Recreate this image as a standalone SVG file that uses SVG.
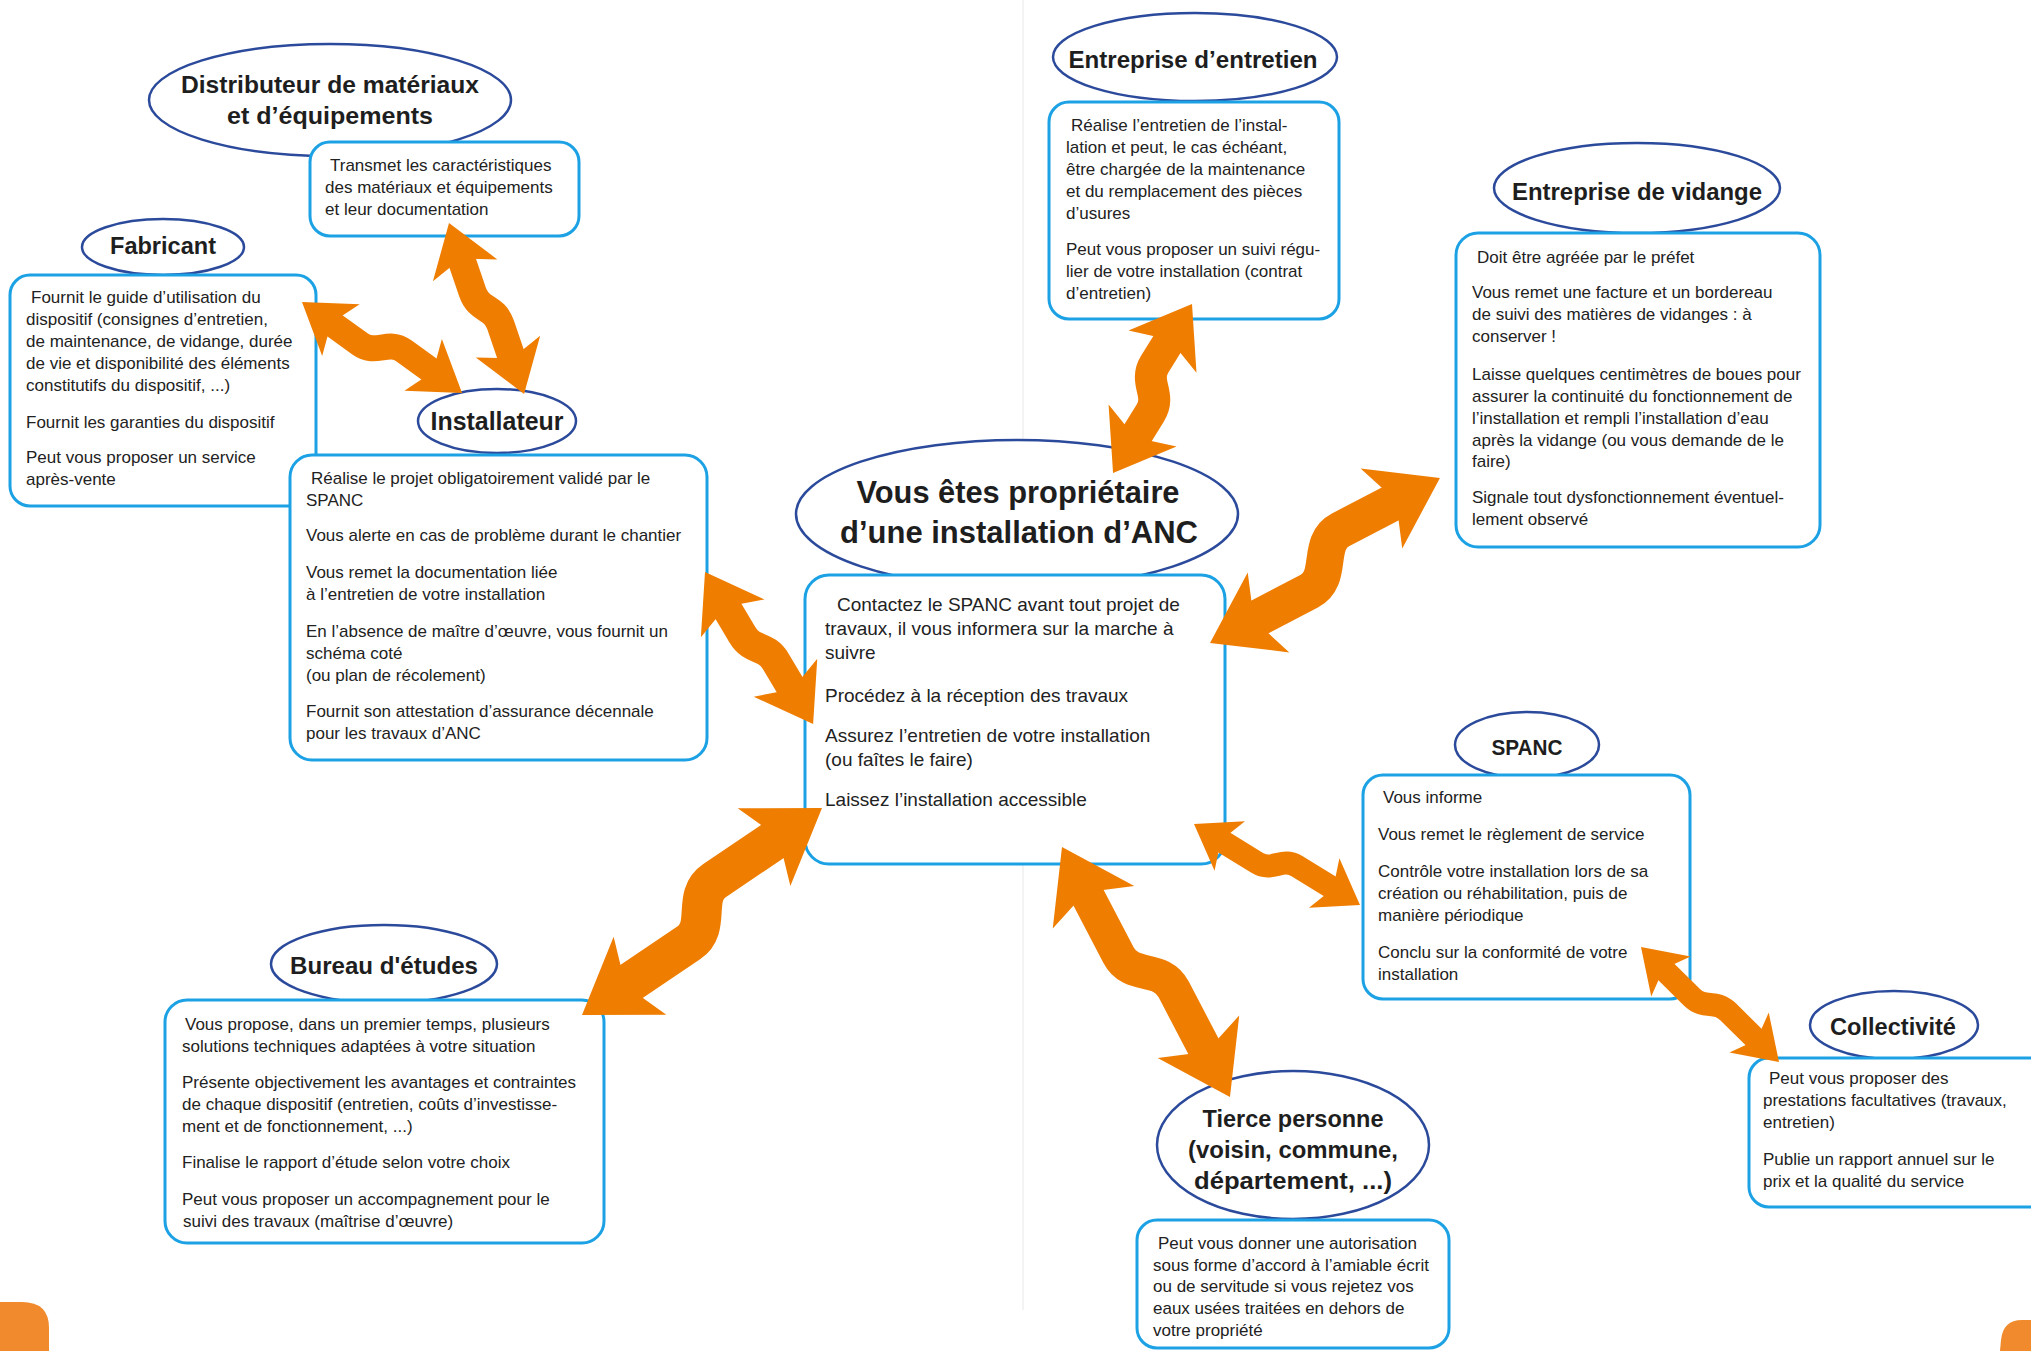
<svg xmlns="http://www.w3.org/2000/svg" width="2031" height="1351" viewBox="0 0 2031 1351">
<style>
.el{fill:#fff;stroke:#2b4a9b;stroke-width:2.5}
.bx{fill:#fff;stroke:#1ca2e4;stroke-width:3}
.ti{font-family:"Liberation Sans",Arial,sans-serif;font-weight:bold;fill:#1e1e1e;text-anchor:middle}
.t{font-family:"Liberation Sans",Arial,sans-serif;font-size:17px;fill:#222}
.tc{font-family:"Liberation Sans",Arial,sans-serif;font-size:19px;fill:#222}
.ab{fill:none;stroke:#ef7d00}
.ah{fill:#ef7d00}
</style>
<rect x="0" y="0" width="2031" height="1351" fill="#fff"/>
<line x1="1023" y1="0" x2="1023" y2="1310" stroke="#e8e8e8" stroke-width="1"/>
<path d="M0,1351 L0,1302 L22,1302 Q49,1302 49,1328 L49,1351 Z" fill="#f08a2c"/>
<path d="M2031,1320 L2022,1320 Q2003,1320 2001,1340 L2000,1351 L2031,1351 Z" fill="#f08a2c"/>

<g id="distributeur">
<ellipse class="el" cx="330" cy="100" rx="181" ry="56"/>
<text class="ti" font-size="24" x="330" y="93" textLength="298" lengthAdjust="spacingAndGlyphs">Distributeur de matériaux</text>
<text class="ti" font-size="24" x="330" y="124" textLength="206" lengthAdjust="spacingAndGlyphs">et d’équipements</text>
<rect class="bx" x="310" y="142" width="269" height="94" rx="20"/>
<text class="t"><tspan x="330" y="171">Transmet les caractéristiques</tspan><tspan x="325" y="193">des matériaux et équipements</tspan><tspan x="325" y="215">et leur documentation</tspan></text>
</g>

<g id="fabricant">
<ellipse class="el" cx="163" cy="247" rx="81" ry="28"/>
<text class="ti" font-size="23.5" x="163" y="254" textLength="106" lengthAdjust="spacingAndGlyphs">Fabricant</text>
<rect class="bx" x="10" y="275" width="306" height="231" rx="20"/>
<text class="t"><tspan x="31" y="303">Fournit le guide d’utilisation du</tspan><tspan x="26" y="325">dispositif (consignes d’entretien,</tspan><tspan x="26" y="347">de maintenance, de vidange, durée</tspan><tspan x="26" y="369">de vie et disponibilité des éléments</tspan><tspan x="26" y="391">constitutifs du dispositif, ...)</tspan><tspan x="26" y="428">Fournit les garanties du dispositif</tspan><tspan x="26" y="463">Peut vous proposer un service</tspan><tspan x="26" y="485">après-vente</tspan></text>
</g>

<g id="installateur">
<ellipse class="el" cx="497" cy="421" rx="79" ry="32"/>
<text class="ti" font-size="25" x="497" y="430" textLength="133" lengthAdjust="spacingAndGlyphs">Installateur</text>
<rect class="bx" x="290" y="455" width="417" height="305" rx="22"/>
<text class="t"><tspan x="311" y="484">Réalise le projet obligatoirement validé par le</tspan><tspan x="306" y="506">SPANC</tspan><tspan x="306" y="541">Vous alerte en cas de problème durant le chantier</tspan><tspan x="306" y="578">Vous remet la documentation liée</tspan><tspan x="306" y="600">à l’entretien de votre installation</tspan><tspan x="306" y="637">En l’absence de maître d’œuvre, vous fournit un</tspan><tspan x="306" y="659">schéma coté</tspan><tspan x="306" y="681">(ou plan de récolement)</tspan><tspan x="306" y="717">Fournit son attestation d’assurance décennale</tspan><tspan x="306" y="739">pour les travaux d’ANC</tspan></text>
</g>

<g id="proprietaire">
<ellipse class="el" cx="1017" cy="514" rx="221" ry="74"/>
<text class="ti" font-size="31" x="1018" y="503" textLength="323" lengthAdjust="spacingAndGlyphs">Vous êtes propriétaire</text>
<text class="ti" font-size="31" x="1019" y="543" textLength="358" lengthAdjust="spacingAndGlyphs">d’une installation d’ANC</text>
<rect class="bx" x="805" y="575" width="420" height="289" rx="24"/>
<text class="tc"><tspan x="837" y="611">Contactez le SPANC avant tout projet de</tspan><tspan x="825" y="635">travaux, il vous informera sur la marche à</tspan><tspan x="825" y="659">suivre</tspan><tspan x="825" y="702">Procédez à la réception des travaux</tspan><tspan x="825" y="742">Assurez l’entretien de votre installation</tspan><tspan x="825" y="766">(ou faîtes le faire)</tspan><tspan x="825" y="806">Laissez l’installation accessible</tspan></text>
</g>

<g id="entretien">
<ellipse class="el" cx="1195" cy="57" rx="142" ry="44"/>
<text class="ti" font-size="24" x="1193" y="68" textLength="249" lengthAdjust="spacingAndGlyphs">Entreprise d’entretien</text>
<rect class="bx" x="1049" y="102" width="290" height="217" rx="20"/>
<text class="t"><tspan x="1071" y="131">Réalise l’entretien de l’instal-</tspan><tspan x="1066" y="153">lation et peut, le cas échéant,</tspan><tspan x="1066" y="175">être chargée de la maintenance</tspan><tspan x="1066" y="197">et du remplacement des pièces</tspan><tspan x="1066" y="219">d’usures</tspan><tspan x="1066" y="255">Peut vous proposer un suivi régu-</tspan><tspan x="1066" y="277">lier de votre installation (contrat</tspan><tspan x="1066" y="299">d’entretien)</tspan></text>
</g>

<g id="vidange">
<ellipse class="el" cx="1637" cy="188" rx="143" ry="45"/>
<text class="ti" font-size="24" x="1637" y="200" textLength="250" lengthAdjust="spacingAndGlyphs">Entreprise de vidange</text>
<rect class="bx" x="1456" y="233" width="364" height="314" rx="22"/>
<text class="t"><tspan x="1477" y="263">Doit être agréée par le préfet</tspan><tspan x="1472" y="298">Vous remet une facture et un bordereau</tspan><tspan x="1472" y="320">de suivi des matières de vidanges : à</tspan><tspan x="1472" y="342">conserver !</tspan><tspan x="1472" y="380">Laisse quelques centimètres de boues pour</tspan><tspan x="1472" y="402">assurer la continuité du fonctionnement de</tspan><tspan x="1472" y="424">l’installation et rempli l’installation d’eau</tspan><tspan x="1472" y="446">après la vidange (ou vous demande de le</tspan><tspan x="1472" y="467">faire)</tspan><tspan x="1472" y="503">Signale tout dysfonctionnement éventuel-</tspan><tspan x="1472" y="525">lement observé</tspan></text>
</g>

<g id="spanc">
<ellipse class="el" cx="1527" cy="745" rx="72" ry="33"/>
<text class="ti" font-size="22" x="1527" y="755" textLength="71" lengthAdjust="spacingAndGlyphs">SPANC</text>
<rect class="bx" x="1363" y="775" width="327" height="224" rx="20"/>
<text class="t"><tspan x="1383" y="803">Vous informe</tspan><tspan x="1378" y="840">Vous remet le règlement de service</tspan><tspan x="1378" y="877">Contrôle votre installation lors de sa</tspan><tspan x="1378" y="899">création ou réhabilitation, puis de</tspan><tspan x="1378" y="921">manière périodique</tspan><tspan x="1378" y="958">Conclu sur la conformité de votre</tspan><tspan x="1378" y="980">installation</tspan></text>
</g>

<g id="collectivite">
<ellipse class="el" cx="1894" cy="1025" rx="84" ry="34"/>
<text class="ti" font-size="23.5" x="1893" y="1035" textLength="126" lengthAdjust="spacingAndGlyphs">Collectivité</text>
<rect class="bx" x="1749" y="1058" width="300" height="149" rx="20"/>
<text class="t"><tspan x="1769" y="1084">Peut vous proposer des</tspan><tspan x="1763" y="1106">prestations facultatives (travaux,</tspan><tspan x="1763" y="1128">entretien)</tspan><tspan x="1763" y="1165">Publie un rapport annuel sur le</tspan><tspan x="1763" y="1187">prix et la qualité du service</tspan></text>
</g>

<g id="tierce">
<ellipse class="el" cx="1293" cy="1145" rx="136" ry="74"/>
<text class="ti" font-size="24" x="1293" y="1127" textLength="181" lengthAdjust="spacingAndGlyphs">Tierce personne</text>
<text class="ti" font-size="24" x="1293" y="1158" textLength="210" lengthAdjust="spacingAndGlyphs">(voisin, commune,</text>
<text class="ti" font-size="24" x="1293" y="1189" textLength="198" lengthAdjust="spacingAndGlyphs">département, ...)</text>
<rect class="bx" x="1137" y="1220" width="312" height="128" rx="20"/>
<text class="t"><tspan x="1158" y="1249">Peut vous donner une autorisation</tspan><tspan x="1153" y="1271">sous forme d’accord à l’amiable écrit</tspan><tspan x="1153" y="1292">ou de servitude si vous rejetez vos</tspan><tspan x="1153" y="1314">eaux usées traitées en dehors de</tspan><tspan x="1153" y="1336">votre propriété</tspan></text>
</g>

<g id="bureau">
<ellipse class="el" cx="384" cy="964" rx="113" ry="39"/>
<text class="ti" font-size="24" x="384" y="974" textLength="188" lengthAdjust="spacingAndGlyphs">Bureau d'études</text>
<rect class="bx" x="165" y="1000" width="439" height="243" rx="22"/>
<text class="t"><tspan x="185" y="1030">Vous propose, dans un premier temps, plusieurs</tspan><tspan x="182" y="1052">solutions techniques adaptées à votre situation</tspan><tspan x="182" y="1088">Présente objectivement les avantages et contraintes</tspan><tspan x="182" y="1110">de chaque dispositif (entretien, coûts d’investisse-</tspan><tspan x="182" y="1132">ment et de fonctionnement, ...)</tspan><tspan x="182" y="1168">Finalise le rapport d’étude selon votre choix</tspan><tspan x="182" y="1205">Peut vous proposer un accompagnement pour le</tspan><tspan x="183" y="1227">suivi des travaux (maîtrise d’œuvre)</tspan></text>
</g>

<g id="connectors">
<g transform="translate(302,302) rotate(35.84)">
<path class="ab" stroke-width="26" d="M33.6,0 L71.5,0 C91.5,0 91.5,-20 111.5,-20 L149.4,-20"/>
<polygon class="ah" points="0,0 48,-32 36,0 48,32"/>
<polygon class="ah" points="183,-20 135,-52 147,-20 135,12"/>
</g>
<g transform="translate(449,223) rotate(71.2)">
<path class="ab" stroke-width="28" d="M35,0 L73,0 C93,0 93,-16 113,-16 L151,-16"/>
<polygon class="ah" points="0,0 50,-34 37.5,0 50,34"/>
<polygon class="ah" points="186,-16 136,-50 148.5,-16 136,18"/>
</g>
<g transform="translate(705,572) rotate(59.2)">
<path class="ab" stroke-width="30" d="M37.8,0 L73,0 C93,0 93,-15 113,-15 L148.2,-15"/>
<polygon class="ah" points="0,0 54,-37 40.5,0 54,37"/>
<polygon class="ah" points="186,-15 132,-52 145.5,-15 132,22"/>
</g>
<g transform="translate(1192,304) rotate(121.8)">
<path class="ab" stroke-width="32" d="M39.2,0 L70.6,0 C92.6,0 92.6,-22 114.6,-22 L146.1,-22"/>
<polygon class="ah" points="0,0 56,-40 42,0 56,40"/>
<polygon class="ah" points="185.3,-22 129.3,-62 143.3,-22 129.3,18"/>
</g>
<g transform="translate(1210,643) rotate(-27.54)">
<path class="ab" stroke-width="37" d="M46.2,0 L112,0 C140,0 140,-40 168,-40 L234,-40"/>
<polygon class="ah" points="0,0 66,-45 49.5,0 66,45"/>
<polygon class="ah" points="280.2,-40 214.2,-85 230.7,-40 214.2,5"/>
</g>
<g transform="translate(582,1015) rotate(-34.08)">
<path class="ab" stroke-width="40" d="M49,0 L129,0 C157,0 157,-37 185,-37 L265.8,-37"/>
<polygon class="ah" points="0,0 70,-47 52.5,0 70,47"/>
<polygon class="ah" points="314.8,-37 244.8,-84 262.3,-37 244.8,10"/>
</g>
<g transform="translate(1062,847) rotate(62.4)">
<path class="ab" stroke-width="34" d="M47.6,0 L122,0 C150,0 150,-33 178,-33 L251.8,-33"/>
<polygon class="ah" points="0,0 68,-46 51,0 68,46"/>
<polygon class="ah" points="299.4,-33 231.4,-79 248.4,-33 231.4,13"/>
</g>
<g transform="translate(1194,824) rotate(31.6)">
<path class="ab" stroke-width="23" d="M29.4,0 L74,0 C92,0 92,-18 110,-18 L154.4,-18"/>
<polygon class="ah" points="0,0 42,-29 31.5,0 42,29"/>
<polygon class="ah" points="183.8,-18 141.8,-47 152.3,-18 141.8,11"/>
</g>
<g transform="translate(1641,947) rotate(44.6)">
<path class="ab" stroke-width="23" d="M29.4,0 L71.5,0 C89.5,0 89.5,-15 107.5,-15 L149.6,-15"/>
<polygon class="ah" points="0,0 42,-28 31.5,0 42,28"/>
<polygon class="ah" points="179,-15 137,-43 147.5,-15 137,13"/>
</g>
</g>
</svg>
